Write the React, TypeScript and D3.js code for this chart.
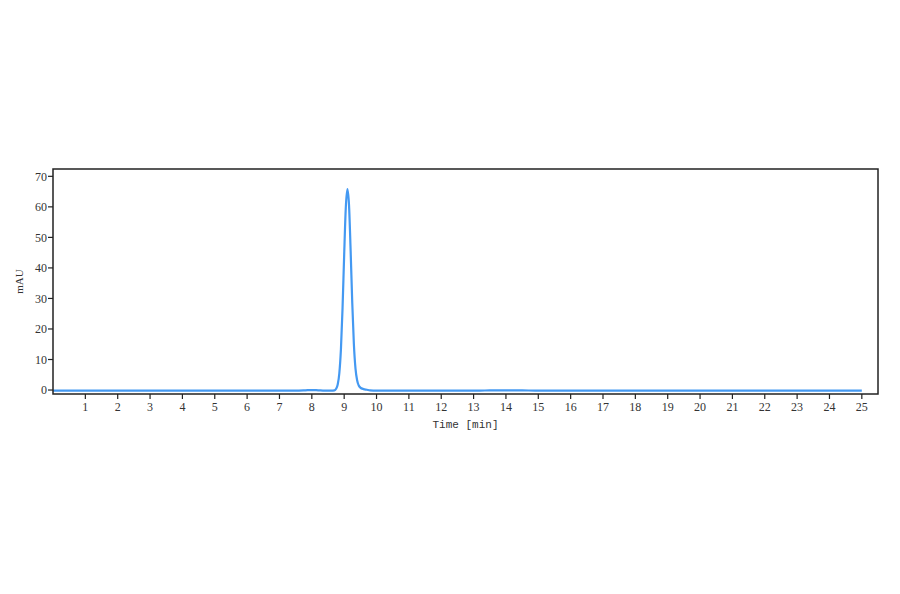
import React from "react";
import * as d3 from "d3";

// chromatogram (time in min, absorbance in mAU)
const times = [
    0, 2, 4, 6, 7.5, 7.8, 8.0, 8.2, 8.4, 8.6, 8.7, 8.75, 8.8, 8.85, 8.9, 8.95,
    9.0, 9.05, 9.1, 9.15, 9.2, 9.25, 9.3, 9.35, 9.4, 9.45, 9.5, 9.6, 9.7, 9.8,
    10.0, 10.5, 12, 13.2, 13.5, 14.0, 14.5, 14.9, 16, 20, 25,
];
const signal = [
    -0.2, -0.2, -0.2, -0.2, -0.2, -0.1, 0.0, -0.1, -0.2, -0.2, -0.1, 0.4, 1.8,
    5.5, 13.4, 26.9, 44.3, 59.7, 65.8, 60.5, 45.5, 28.5, 15, 7, 3.2, 1.5, 0.8,
    0.3, 0.1, -0.1, -0.2, -0.2, -0.2, -0.2, -0.1, -0.1, -0.1, -0.2, -0.2, -0.2,
    -0.2,
];
const xTicks = d3.range(1, 26);
const yTicks = [0, 10, 20, 30, 40, 50, 60, 70];

const W = 900;
const H = 594;
const margin = { top: 169, right: 22, bottom: 200, left: 53 };
const innerW = W - margin.left - margin.right;
const innerH = H - margin.top - margin.bottom;

const App: React.FC = () => {
    const x = d3.scaleLinear().domain([0, 25.5]).range([0, innerW]);
    const y = d3.scaleLinear().domain([-1.3, 72.4]).range([innerH, 0]);

    const points = times.map((t, i) => [t, signal[i]] as [number, number]);
    const path = d3
        .line<[number, number]>()
        .x(d => x(d[0]))
        .y(d => y(d[1]))
        .curve(d3.curveMonotoneX)(points);

    const tickFont = "'Liberation Serif', serif";

    return (
        <svg
            width={W}
            height={H}
            style={{ position: "absolute", left: 0, top: 0, background: "#fff" }}
        >
            <g transform={`translate(${margin.left},${margin.top})`}>
                <path d={path ?? ""} fill="none" stroke="#4499f2" strokeWidth={2.2} />

                {/* frame */}
                <rect
                    x={0}
                    y={0}
                    width={innerW}
                    height={innerH}
                    fill="none"
                    stroke="#222"
                    strokeWidth={1.5}
                />

                {/* y axis */}
                {yTicks.map(v => (
                    <g key={v} transform={`translate(0,${y(v)})`}>
                        <line x1={-5} x2={0} stroke="#222" strokeWidth={1.2} />
                        <text
                            x={-6}
                            dy="0.35em"
                            textAnchor="end"
                            fontFamily={tickFont}
                            fontSize={12}
                            fill="#333"
                        >
                            {v}
                        </text>
                    </g>
                ))}
                <text
                    transform={`translate(${-30},${innerH / 2}) rotate(-90)`}
                    textAnchor="middle"
                    fontFamily={tickFont}
                    fontSize={11}
                    fill="#333"
                >
                    mAU
                </text>

                {/* x axis */}
                {xTicks.map(v => (
                    <g key={v} transform={`translate(${x(v)},${innerH})`}>
                        <line y1={0} y2={5} stroke="#222" strokeWidth={1.2} />
                        <text
                            y={13}
                            dy="0.35em"
                            textAnchor="middle"
                            fontFamily={tickFont}
                            fontSize={12}
                            fill="#333"
                        >
                            {v}
                        </text>
                    </g>
                ))}
                <text
                    x={innerW / 2}
                    y={innerH + 30}
                    dy="0.35em"
                    textAnchor="middle"
                    fontFamily="'Liberation Mono', monospace"
                    fontSize={11}
                    fill="#333"
                >
                    Time [min]
                </text>
            </g>
        </svg>
    );
};

export default App;
